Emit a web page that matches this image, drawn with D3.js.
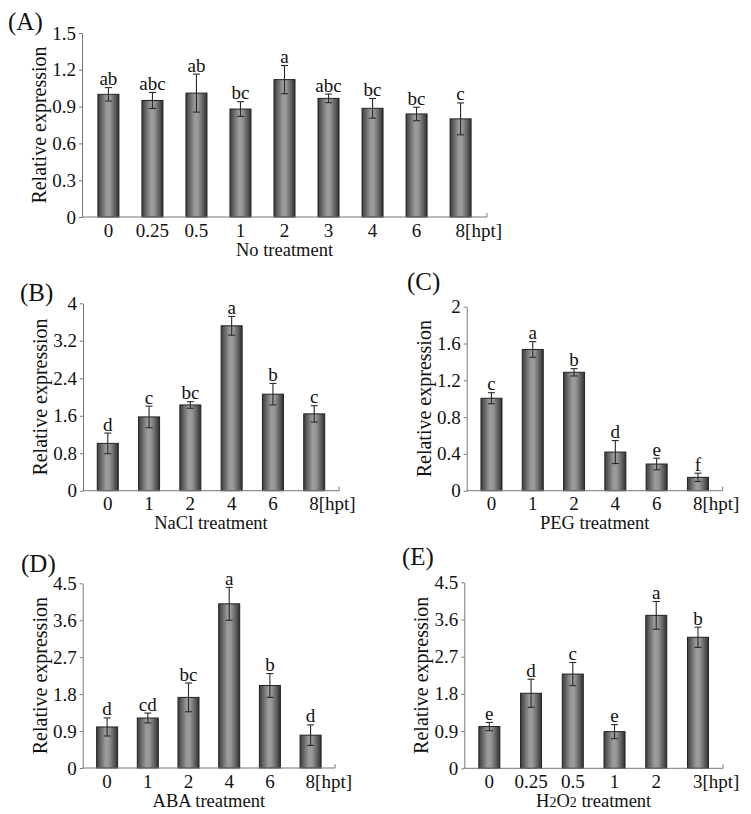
<!DOCTYPE html>
<html>
<head>
<meta charset="utf-8">
<script src="https://cdn.jsdelivr.net/npm/d3@7"></script>
<style>
  html, body { margin: 0; padding: 0; background: #fff; }
  svg { display: block; }
  svg text { font-family: "Liberation Serif", Tinos, "DejaVu Serif", serif !important; fill: #111; }
</style>
</head>
<body>
<svg id="chart" width="751" height="814" font-family="Liberation Serif, serif"></svg>
<script>
// ---------- DATA ----------
const panelLetters = ["(A)", "(B)", "(C)", "(D)", "(E)"];
const axisTitles = ["No treatment", "NaCl treatment", "PEG treatment", "ABA treatment", "H2O2 treatment"];

const timesA = ["0", "0.25", "0.5", "1", "2", "3", "4", "6", "8"];
const valuesA = [1.00, 0.95, 1.01, 0.88, 1.12, 0.967, 0.886, 0.84, 0.80];
const errorsA = [0.055, 0.065, 0.155, 0.06, 0.115, 0.035, 0.08, 0.055, 0.13];
const lettersA = ["ab", "abc", "ab", "bc", "a", "abc", "bc", "bc", "c"];
const ticksA = [0, 0.3, 0.6, 0.9, 1.2, 1.5];

const timesB = ["0", "1", "2", "4", "6", "8"];
const valuesB = [1.01, 1.575, 1.83, 3.52, 2.06, 1.64];
const errorsB = [0.22, 0.23, 0.07, 0.2, 0.23, 0.175];
const lettersB = ["d", "c", "bc", "a", "b", "c"];
const ticksB = [0, 0.8, 1.6, 2.4, 3.2, 4];

const timesC = ["0", "1", "2", "4", "6", "8"];
const valuesC = [1.005, 1.535, 1.287, 0.42, 0.29, 0.145];
const errorsC = [0.06, 0.085, 0.04, 0.125, 0.063, 0.045];
const lettersC = ["c", "a", "b", "d", "e", "f"];
const ticksC = [0, 0.4, 0.8, 1.2, 1.6, 2];

const timesD = ["0", "1", "2", "4", "6", "8"];
const valuesD = [1.0, 1.218, 1.72, 4.0, 2.01, 0.80];
const errorsD = [0.22, 0.12, 0.35, 0.4, 0.29, 0.25];
const lettersD = ["d", "cd", "bc", "a", "b", "d"];
const ticksD = [0, 0.9, 1.8, 2.7, 3.6, 4.5];

const timesE = ["0", "0.25", "0.5", "1", "2", "3"];
const valuesE = [1.01, 1.815, 2.28, 0.887, 3.70, 3.17];
const errorsE = [0.1, 0.34, 0.28, 0.17, 0.335, 0.245];
const lettersE = ["e", "d", "c", "e", "a", "b"];
const ticksE = [0, 0.9, 1.8, 2.7, 3.6, 4.5];

const unitLabel = "[hpt]";

// ---------- LAYOUT ----------
const layouts = [
  { x0: 82,    x1: 487,   yTop: 33,    y0: 217,   lx: 8,   ly: 30 },
  { x0: 83,    x1: 339,   yTop: 303.3, y0: 490.7, lx: 20,  ly: 301 },
  { x0: 466.7, x1: 722.7, yTop: 306.7, y0: 490.7, lx: 407, ly: 290 },
  { x0: 82.7,  x1: 335,   yTop: 583.3, y0: 768,   lx: 21,  ly: 572 },
  { x0: 464.3, x1: 723,   yTop: 582.3, y0: 768.3, lx: 402, ly: 565 }
];

const panels = [
  { times: timesA, values: valuesA, errors: errorsA, letters: lettersA, ticks: ticksA },
  { times: timesB, values: valuesB, errors: errorsB, letters: lettersB, ticks: ticksB },
  { times: timesC, values: valuesC, errors: errorsC, letters: lettersC, ticks: ticksC },
  { times: timesD, values: valuesD, errors: errorsD, letters: lettersD, ticks: ticksD },
  { times: timesE, values: valuesE, errors: errorsE, letters: lettersE, ticks: ticksE }
];

const svg = d3.select("#chart");
const FS = 18.5;
const FONT = "Liberation Serif, serif";

// cylindrical bar gradient
const defs = svg.append("defs");
const grad = defs.append("linearGradient").attr("id", "barGrad")
  .attr("x1", "0%").attr("x2", "100%").attr("y1", "0%").attr("y2", "0%");
[[0, "#3c3c3c"], [0.18, "#666"], [0.42, "#9c9c9c"], [0.58, "#979797"], [0.82, "#5e5e5e"], [1, "#303030"]]
  .forEach(([o, c]) => grad.append("stop").attr("offset", o).attr("stop-color", c));

panels.forEach((p, i) => {
  const L = layouts[i];
  const g = svg.append("g").attr("font-family", FONT);
  const x = d3.scalePoint().domain(p.times).range([L.x0, L.x1]).padding(0.6);
  const yMax = p.ticks[p.ticks.length - 1];
  const y = d3.scaleLinear().domain([0, yMax]).range([L.y0, L.yTop]);
  const bw = 21;

  // bars
  g.selectAll("rect.bar").data(p.values).join("rect")
    .attr("class", "bar")
    .attr("x", (d, j) => x(p.times[j]) - bw / 2)
    .attr("width", bw)
    .attr("y", d => y(d))
    .attr("height", d => y(0) - y(d))
    .attr("fill", "url(#barGrad)")
    .attr("stroke", "#222").attr("stroke-width", 1);

  // error bars
  const eb = g.selectAll("g.err").data(p.values).join("g").attr("class", "err")
    .attr("stroke", "#2a2a2a").attr("stroke-width", 1.1);
  eb.append("line")
    .attr("x1", (d, j) => x(p.times[j])).attr("x2", (d, j) => x(p.times[j]))
    .attr("y1", (d, j) => y(d + p.errors[j])).attr("y2", (d, j) => y(d - p.errors[j]));
  eb.append("line")
    .attr("x1", (d, j) => x(p.times[j]) - 3.5).attr("x2", (d, j) => x(p.times[j]) + 3.5)
    .attr("y1", (d, j) => y(d + p.errors[j])).attr("y2", (d, j) => y(d + p.errors[j]));
  eb.append("line")
    .attr("x1", (d, j) => x(p.times[j]) - 3.5).attr("x2", (d, j) => x(p.times[j]) + 3.5)
    .attr("y1", (d, j) => y(d - p.errors[j])).attr("y2", (d, j) => y(d - p.errors[j]));

  // significance letters
  g.selectAll("text.sig").data(p.letters).join("text")
    .attr("class", "sig")
    .attr("x", (d, j) => x(p.times[j]))
    .attr("y", (d, j) => y(p.values[j] + p.errors[j]) - 2.5)
    .attr("text-anchor", "middle")
    .attr("font-size", 19)
    .text(d => d);

  // y axis
  const ya = g.append("g").attr("transform", `translate(${L.x0},0)`)
    .call(d3.axisLeft(y).tickValues(p.ticks).tickSize(3).tickSizeOuter(0).tickFormat(d3.format("")));
  ya.attr("font-family", FONT);
  ya.select(".domain").attr("stroke", "#777");
  ya.selectAll(".tick line").attr("stroke", "#777");
  ya.selectAll(".tick text").attr("font-size", 19).attr("font-family", FONT)
    .attr("fill", "#111").attr("x", -6);

  // x axis line with end tick
  g.append("line").attr("x1", L.x0).attr("x2", L.x1).attr("y1", L.y0).attr("y2", L.y0)
    .attr("stroke", "#777").attr("stroke-width", 1);
  g.append("line").attr("x1", L.x1).attr("x2", L.x1).attr("y1", L.y0).attr("y2", L.y0 - 4)
    .attr("stroke", "#777").attr("stroke-width", 1);

  // x tick labels
  const n = p.times.length;
  g.selectAll("text.xt").data(p.times).join("text")
    .attr("class", "xt")
    .attr("x", (d, j) => j === n - 1 ? x(d) - 5 : x(d))
    .attr("y", L.y0 + 19.5)
    .attr("text-anchor", (d, j) => j === n - 1 ? "start" : "middle")
    .attr("font-size", 19)
    .text((d, j) => j === n - 1 ? d + unitLabel : d);

  // x axis title
  const tt = g.append("text")
    .attr("x", (L.x0 + L.x1) / 2).attr("y", L.y0 + 38.5)
    .attr("text-anchor", "middle").attr("font-size", FS);
  if (i === 4) {
    tt.append("tspan").text("H");
    tt.append("tspan").attr("font-size", 14).text("2");
    tt.append("tspan").text("O");
    tt.append("tspan").attr("font-size", 14).text("2");
    tt.append("tspan").text(" treatment");
  } else {
    tt.text(axisTitles[i]);
  }

  // y axis title
  g.append("text")
    .attr("transform", `translate(${L.x0 - 36},${(L.y0 + L.yTop) / 2}) rotate(-90)`)
    .attr("text-anchor", "middle").attr("font-size", 20)
    .text("Relative expression");

  // panel letter
  g.append("text").attr("x", L.lx).attr("y", L.ly).attr("font-size", 25).text(panelLetters[i]);
});
</script>
</body>
</html>
